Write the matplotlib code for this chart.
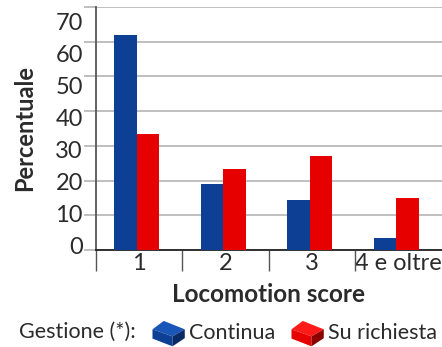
import numpy as np
import matplotlib.pyplot as plt
import matplotlib.transforms as mtransforms
from matplotlib.patches import Polygon
from matplotlib.legend_handler import HandlerBase

# Data
categories = ['1', '2', '3', '4 e oltre']
continua = [62, 19, 14.4, 3.5]
su_richiesta = [33.4, 23.3, 27.1, 15]
yticks = [0, 10, 20, 30, 40, 50, 60, 70]

blue = '#0d3f94'
red = '#e60000'
text_col = '#2b2b2b'
grid_col = '#b4b4b4'

plt.rcParams['font.family'] = ['Lato', 'DejaVu Sans']


class BoxHandler(HandlerBase):
    # small isometric brick used as legend key
    def __init__(self, face, top, side):
        super().__init__()
        self.face, self.top, self.side = face, top, side

    def create_artists(self, legend, orig_handle, xd, yd, width, height, fontsize, trans):
        w, h = width, height
        x0, y0 = -xd, -yd
        top = Polygon([(x0, y0 + 0.62 * h), (x0 + 0.35 * w, y0 + 1.0 * h),
                       (x0 + w, y0 + 0.62 * h), (x0 + 0.62 * w, y0 + 0.3 * h)],
                      closed=True, facecolor=self.top, edgecolor='none', transform=trans)
        front = Polygon([(x0, y0 + 0.62 * h), (x0 + 0.62 * w, y0 + 0.3 * h),
                         (x0 + 0.62 * w, y0 - 0.15 * h), (x0, y0 + 0.2 * h)],
                        closed=True, facecolor=self.face, edgecolor='none', transform=trans)
        side = Polygon([(x0 + 0.62 * w, y0 + 0.3 * h), (x0 + w, y0 + 0.62 * h),
                        (x0 + w, y0 + 0.22 * h), (x0 + 0.62 * w, y0 - 0.15 * h)],
                       closed=True, facecolor=self.side, edgecolor='none', transform=trans)
        return [top, front, side]


fig = plt.figure(figsize=(4.42, 3.47), dpi=100)
ax = fig.add_axes([0.217, 0.2795, 0.783, 0.7005])

x = np.arange(len(categories))
w = 0.26
ax.bar(x - w / 2 - 0.03, continua, w, color=blue, zorder=3)
ax.bar(x + w / 2 - 0.03, su_richiesta, w, color=red, zorder=3)

ax.set_xlim(-0.5, len(categories) - 0.5)
ax.set_ylim(0, 70)
ax.set_yticks(yticks)
ax.set_yticklabels([])
ax.yaxis.grid(True, color=grid_col, linewidth=1.2, zorder=0)
ax.tick_params(axis='y', length=9, width=1.2, color=grid_col)

# the reference's y labels sit progressively lower than their gridlines
lab_trans = mtransforms.blended_transform_factory(ax.transAxes, ax.transData) + \
    mtransforms.ScaledTranslation(-13 / 100, 0, fig.dpi_scale_trans)
for v in yticks:
    ax.text(0, v * 0.925 + 0.6, str(v), transform=lab_trans, ha='right', va='center',
            fontsize=17, color=text_col)

ax.set_xticks(x)
ax.set_xticklabels(categories)
ax.set_xticks(np.arange(-0.5, len(categories) - 1), minor=True)
ax.tick_params(axis='x', which='major', length=0, labelsize=17, labelcolor=text_col, pad=2)
ax.tick_params(axis='x', which='minor', length=15, width=1, color='#555555')

for s in ['top', 'right']:
    ax.spines[s].set_visible(False)
ax.spines['left'].set_color('#555555')
ax.spines['left'].set_linewidth(1.3)
ax.spines['bottom'].set_color('#222222')
ax.spines['bottom'].set_linewidth(1.3)

ax.set_ylabel('Percentuale', fontsize=17, fontweight='bold', color=text_col)
ax.yaxis.set_label_coords(-0.173, 0.5)
ax.set_xlabel('Locomotion score', fontsize=17.5, fontweight='bold', color=text_col, labelpad=5)

fig.text(0.043, 0.043, 'Gestione (*):', fontsize=15.5, color=text_col, va='center')
h1, h2 = object(), object()
fig.legend([h1, h2], ['Continua', 'Su richiesta'],
           handler_map={h1: BoxHandler(blue, '#1a55b8', '#0a2a66'),
                        h2: BoxHandler(red, '#ff1a1a', '#8c0000')},
           loc='center left', bbox_to_anchor=(0.345, 0.043), ncol=2, frameon=False,
           fontsize=15.5, handlelength=1.5, handleheight=1.2, handletextpad=0.2,
           columnspacing=0.75, borderaxespad=0, borderpad=0, labelcolor=text_col)

fig.savefig('out.png', dpi=100)
